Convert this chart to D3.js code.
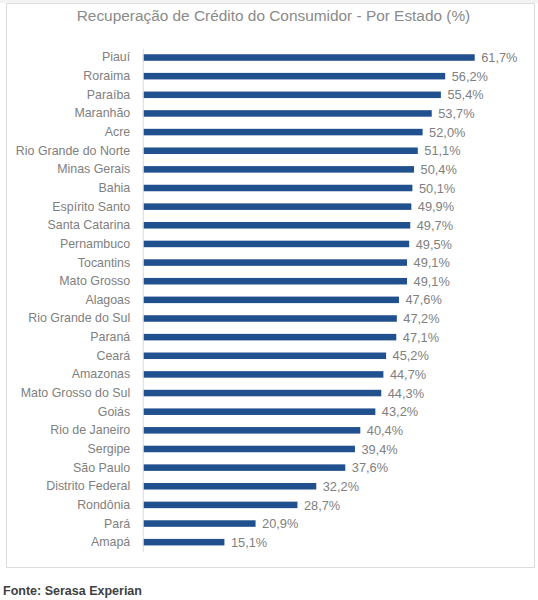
<!DOCTYPE html>
<html>
<head>
<meta charset="utf-8">
<script src="https://cdn.jsdelivr.net/npm/d3@7"></script>
<style>
  body { margin: 0; background: #fff; }
  svg { display: block; font-family: Arial, "Liberation Sans", sans-serif; }
</style>
</head>
<body>
<svg id="chart"></svg>
<script>
// Data
const states = ['Piauí', 'Roraima', 'Paraíba', 'Maranhão', 'Acre', 'Rio Grande do Norte',
  'Minas Gerais', 'Bahia', 'Espírito Santo', 'Santa Catarina', 'Pernambuco', 'Tocantins',
  'Mato Grosso', 'Alagoas', 'Rio Grande do Sul', 'Paraná', 'Ceará', 'Amazonas',
  'Mato Grosso do Sul', 'Goiás', 'Rio de Janeiro', 'Sergipe', 'São Paulo',
  'Distrito Federal', 'Rondônia', 'Pará', 'Amapá'];
const recovery = [61.7, 56.2, 55.4, 53.7, 52.0, 51.1, 50.4, 50.1, 49.9, 49.7, 49.5, 49.1,
  49.1, 47.6, 47.2, 47.1, 45.2, 44.7, 44.3, 43.2, 40.4, 39.4, 37.6, 32.2, 28.7, 20.9, 15.1];
const title = 'Recuperação de Crédito do Consumidor - Por Estado (%)';
const source = 'Fonte: Serasa Experian';

const width = 538, height = 600;
const rows = states.map((s, i) => ({ state: s, value: recovery[i] }));

const svg = d3.select('#chart')
  .attr('width', width)
  .attr('height', height);

// frame around the chart
svg.append('rect')
  .attr('x', 0).attr('y', 0)
  .attr('width', width).attr('height', 3)
  .attr('fill', '#f3f3f3');
svg.append('rect')
  .attr('x', 6.5).attr('y', 3.5)
  .attr('width', 528).attr('height', 564)
  .attr('fill', '#fff')
  .attr('stroke', '#dcdcdc')
  .attr('stroke-width', 1);

svg.append('text')
  .attr('x', 273.5)
  .attr('y', 20.5)
  .attr('text-anchor', 'middle')
  .attr('font-size', 15.4)
  .attr('fill', '#8a8a8a')
  .text(title);

// Scales
const x = d3.scaleLinear()
  .domain([0, 70])
  .range([143.3, 519.3]);

const y = d3.scaleBand()
  .domain(states)
  .range([48.2, 551.5])
  .paddingInner(0.65)
  .paddingOuter(0.325);

const fmt = d3.formatLocale({ decimal: ',', thousands: '.', grouping: [3], currency: ['R$', ''] })
  .format('.1f');

// Bars
svg.selectAll('.bar')
  .data(rows)
  .enter()
  .append('rect')
  .attr('class', 'bar')
  .attr('x', x(0))
  .attr('y', d => y(d.state))
  .attr('width', d => x(d.value) - x(0))
  .attr('height', y.bandwidth())
  .attr('fill', '#21508f');

// Value labels
svg.selectAll('.val')
  .data(rows)
  .enter()
  .append('text')
  .attr('class', 'val')
  .attr('x', d => x(d.value) + 6.5)
  .attr('y', d => y(d.state) + y.bandwidth() / 2)
  .attr('dy', '0.36em')
  .attr('font-size', 12.8)
  .attr('fill', '#808080')
  .text(d => fmt(d.value) + '%');

// Category axis
const yAxis = d3.axisLeft(y).tickSize(0).tickPadding(12.5);
const gy = svg.append('g')
  .attr('transform', `translate(${x(0) - 0.6},0)`)
  .call(yAxis);
gy.select('.domain').attr('stroke', '#d9d9d9');
gy.selectAll('text')
  .attr('font-size', 12.4)
  .attr('font-family', 'Arial, "Liberation Sans", sans-serif')
  .attr('fill', '#808080');

svg.append('text')
  .attr('x', 3)
  .attr('y', 595)
  .attr('font-size', 12.5)
  .attr('font-weight', 'bold')
  .attr('fill', '#404040')
  .text(source);
</script>
</body>
</html>
